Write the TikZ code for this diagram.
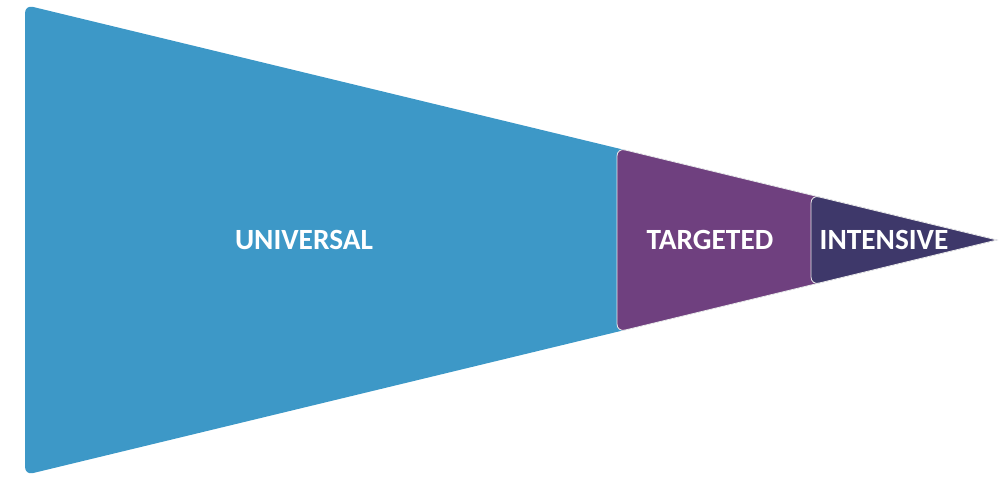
\documentclass[tikz,border=0pt]{standalone}
\usepackage{fontspec}
\setmainfont{Carlito}
\usepackage{tikz}
\usetikzlibrary{positioning}
\definecolor{funnelblue}{RGB}{61,152,199}
\definecolor{funnelpurple}{RGB}{111,64,127}
\definecolor{funneldark}{RGB}{62,56,106}
\tikzset{
  segment/.style={draw=white!85!gray, line width=0.6pt, rounded corners=6pt},
  seglabel/.style={text=white, font=\fontsize{22}{26}\selectfont\bfseries, inner sep=0pt}
}

\begin{document}
\begin{tikzpicture}[x=0.75pt, y=-0.75pt]
  \useasboundingbox (0,0) rectangle (1006,478);

  % Level 1: universal
  \fill[funnelblue, rounded corners=6pt] (997,240) -- (25,475) -- (25,5) [sharp corners] -- cycle;
  % Level 2: targeted
  \filldraw[segment, fill=funnelpurple] (997,240) -- (617,332) -- (617,148) [sharp corners] -- cycle;
  % Level 3: intensive
  \filldraw[segment, fill=funneldark] (997,240) -- (811,285) -- (811,195) [sharp corners] -- cycle;

  \node[seglabel] (universal) at (304,240) {UNIVERSAL};
  \node[seglabel] (targeted) at (710,240) {TARGETED};
  \node[seglabel] (intensive) at (884,240) {INTENSIVE};
\end{tikzpicture}
\end{document}
